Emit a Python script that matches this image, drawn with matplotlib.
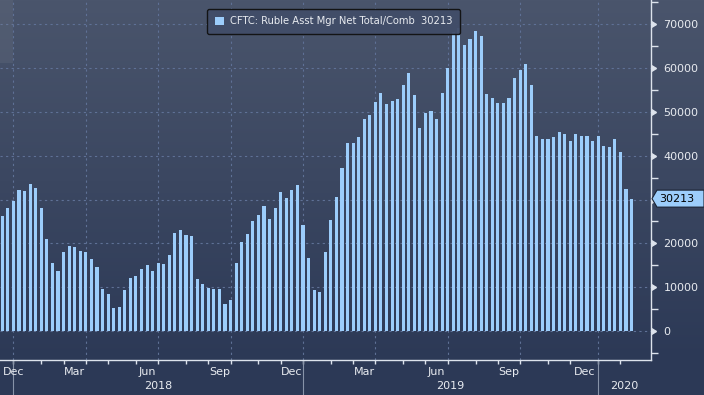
import numpy as np
import pandas as pd
import matplotlib
matplotlib.use('Agg')
import matplotlib.pyplot as plt
import matplotlib.transforms as mtransforms
from matplotlib.patches import Patch, Polygon, Rectangle
from matplotlib.lines import Line2D

# weekly CFTC positions (contracts)
values = [26250, 28080, 29680, 32190, 31960, 33560, 32650, 28080, 21000, 15520,
          13700, 18040, 19400, 19100, 18330, 18040, 16440, 14610, 9590, 8450,
          5250, 5480, 9360, 12100, 12560, 14160, 15070, 13700, 15520, 15300,
          17350, 22370, 23060, 21920, 21690, 11870, 10730, 9820, 9590, 9590,
          6160, 7080, 15520, 20320, 22140, 25110, 26480, 28540, 25570, 28080,
          31730, 30360, 32190, 33330, 24200, 16670, 9360, 8900, 18040, 25340,
          30590, 37210, 42920, 42920, 44290, 48400, 49310, 52280, 54330, 51820,
          52510, 52970, 56160, 58900, 53880, 46350, 49770, 50230, 48400, 54330,
          60040, 68300, 69170, 65290, 66660, 68490, 67350, 54100, 53190, 52050,
          52050, 53190, 57760, 59580, 60950, 56160, 44520, 43830, 43830, 44290,
          45430, 44980, 43380, 44980, 44520, 44520, 43380, 44520, 42240, 42010,
          43830, 40870, 32420, 30213]
start_date = '2017-12-19'
series_name = 'CFTC: Ruble Asst Mgr Net Total/Comb'
last_label = '30213'
y_ticks = list(range(0, 70001, 10000))
y_minor = list(range(-5000, 75001, 10000))
labelled_months = [12, 3, 6, 9]

dates = pd.date_range(start_date, periods=len(values), freq='7D')
idx = np.arange(len(values))

bar_col = '#9ccdfb'
grid_col = '#5f7196'
axis_col = '#dde3ec'
txt_col = '#e8ebf0'

W, H = 704, 395
fig = plt.figure(figsize=(W / 100, H / 100), dpi=100)
fig.patch.set_facecolor('#2c3a56')

# background gradient (top lighter, bottom navy)
top = np.array([74, 85, 108]) / 255
bot = np.array([44, 57, 86]) / 255
grad = np.zeros((H, 1, 3))
for r in range(H):
    t = min(r / 360, 1.0)
    grad[r, 0] = top * (1 - t) + bot * t
bg = fig.add_axes([0, 0, 1, 1], zorder=-10)
bg.imshow(grad, aspect='auto', extent=[0, 1, 0, 1])
bg.axis('off')
fig.add_artist(Rectangle((0, H - 63), 13, 63, transform=mtransforms.IdentityTransform(),
                         color='#8a8f99', alpha=0.15, lw=0))

ax = fig.add_axes([0, 35 / H, 651 / W, 360 / H])
ax.patch.set_alpha(0)
ax.set_xlim(-0.41, 116.5)
ax.set_ylim(-6621, 75548)

ax.bar(idx, values, width=0.56, color=bar_col, zorder=3)

# month starts / quarter grid / year starts
month_starts = [i for i in range(1, len(dates)) if dates[i].month != dates[i - 1].month]
quarter_starts = [i for i in month_starts if dates[i].month in (1, 4, 7, 10)]
year_starts = [i for i in month_starts if dates[i].month == 1]

ax.set_yticks(y_ticks)
ax.yaxis.grid(True, linestyle=(0, (2, 3)), color=grid_col, lw=0.8)
for q in quarter_starts:
    ax.axvline(q, linestyle=(0, (2, 3)), color=grid_col, lw=0.8, zorder=1)

ax.set_xticks(month_starts)
ax.set_xticklabels([])
ax.tick_params(axis='x', length=3, width=1, color=axis_col, direction='out')

bl = mtransforms.blended_transform_factory(ax.transData, ax.transAxes)
bounds = [ax.get_xlim()[0]] + month_starts + [ax.get_xlim()[1]]
for a, b in zip(bounds[:-1], bounds[1:]):
    d = dates[int(np.ceil(max(a, 0)))]
    if d.month in labelled_months:
        if a < 0:
            ax.text(a + 0.6, -0.032, d.strftime('%b'), transform=bl, ha='left', va='center',
                    color=txt_col, fontsize=8)
        else:
            ax.text((a + b) / 2, -0.032, d.strftime('%b'), transform=bl, ha='center', va='center',
                    color=txt_col, fontsize=8)

ybounds = year_starts + [ax.get_xlim()[1]]
for a, b in zip(ybounds[:-1], ybounds[1:]):
    ax.text((a + b) / 2, -0.073, str(dates[a].year), transform=bl, ha='center', va='center',
            color=txt_col, fontsize=8)
for ys in year_starts:
    ax.add_line(Line2D([ys, ys], [0, -35 / 360], transform=bl, color='#8793a8', lw=0.8,
                       clip_on=False))

# right value axis; the tick label under the last-value tag is hidden like in the original
ax.yaxis.tick_right()
ax.set_yticks(y_minor, minor=True)
ax.set_yticklabels(['' if abs(v - values[-1]) < 4000 else str(v) for v in y_ticks])
ax.tick_params(axis='y', which='major', length=0, pad=9, labelsize=8, labelcolor=txt_col)
ax.tick_params(axis='y', which='minor', length=5, width=1, color=axis_col, direction='out')
br = mtransforms.blended_transform_factory(ax.transAxes, ax.transData)
ax.plot([1] * len(y_ticks), y_ticks, ls='none', marker=9, ms=5, color=axis_col,
        transform=br, clip_on=False)

for s in ['top', 'left']:
    ax.spines[s].set_visible(False)
for s in ['bottom', 'right']:
    ax.spines[s].set_color(axis_col)
    ax.spines[s].set_linewidth(1)

leg = ax.legend([Patch(facecolor=bar_col, edgecolor='none')],
                [series_name + '  ' + last_label],
                loc='upper left', bbox_to_anchor=(207 / 651, 1 - 9 / 360), borderaxespad=0,
                fontsize=7.2, labelcolor=txt_col, facecolor='#414d68', edgecolor='#111111',
                framealpha=0.95, handlelength=0.9, handleheight=0.9, handletextpad=0.6,
                borderpad=0.75, fancybox=True)
leg.set_zorder(5)

# last value tag
xr = ax.transAxes.transform((1, 0))[0]
yv = ax.transData.transform((0, values[-1]))[1]
tag = Polygon([(xr + 1, yv), (xr + 6, yv + 8.5), (W, yv + 8.5), (W, yv - 8.5), (xr + 6, yv - 8.5)],
              closed=True, facecolor=bar_col, edgecolor='#1a2233', lw=0.8,
              transform=mtransforms.IdentityTransform())
fig.add_artist(tag)
fig.text(xr + 8, yv, last_label, transform=mtransforms.IdentityTransform(), ha='left',
         va='center', color='#000000', fontsize=8)

fig.savefig('out.png', dpi=100, facecolor=fig.get_facecolor())
